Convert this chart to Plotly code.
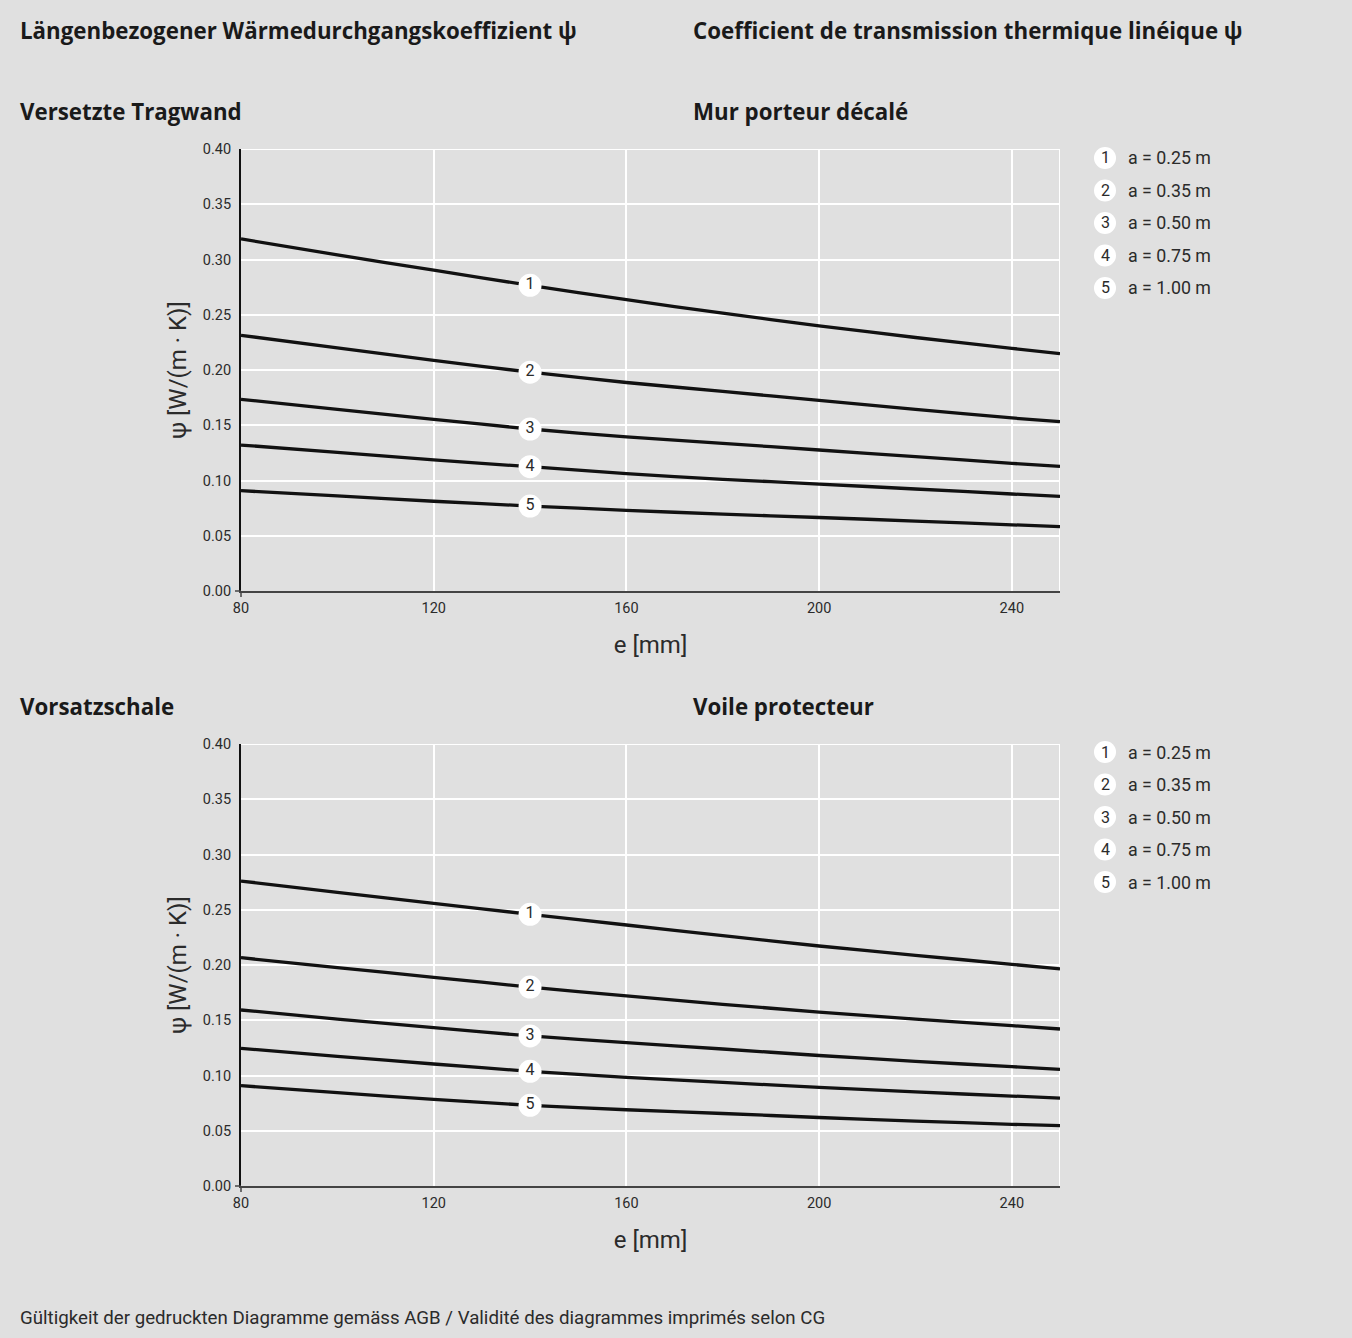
import plotly.graph_objects as go

W, H = 1352, 1338

e_mm = [80, 100, 120, 140, 160, 180, 200, 220, 240, 250]

# Versetzte Tragwand / Mur porteur décalé
top_a025 = [0.3186, 0.3042, 0.2903, 0.2766, 0.2636, 0.2514, 0.2400, 0.2294, 0.2196, 0.2148]
top_a035 = [0.2314, 0.2200, 0.2088, 0.1980, 0.1887, 0.1806, 0.1725, 0.1643, 0.1566, 0.1532]
top_a050 = [0.1735, 0.1644, 0.1554, 0.1466, 0.1395, 0.1336, 0.1276, 0.1216, 0.1155, 0.1128]
top_a075 = [0.1321, 0.1255, 0.1186, 0.1125, 0.1062, 0.1011, 0.0968, 0.0923, 0.0878, 0.0857]
top_a100 = [0.0908, 0.0860, 0.0812, 0.0769, 0.0730, 0.0696, 0.0665, 0.0633, 0.0599, 0.0582]

# Vorsatzschale / Voile protecteur
bot_a025 = [0.2760, 0.2658, 0.2558, 0.2459, 0.2362, 0.2265, 0.2172, 0.2088, 0.2006, 0.1964]
bot_a035 = [0.2066, 0.1976, 0.1889, 0.1800, 0.1720, 0.1644, 0.1574, 0.1511, 0.1451, 0.1421]
bot_a050 = [0.1593, 0.1511, 0.1433, 0.1358, 0.1297, 0.1240, 0.1181, 0.1128, 0.1080, 0.1056]
bot_a075 = [0.1246, 0.1173, 0.1104, 0.1038, 0.0983, 0.0938, 0.0892, 0.0851, 0.0814, 0.0796]
bot_a100 = [0.0908, 0.0845, 0.0784, 0.0730, 0.0690, 0.0656, 0.0620, 0.0588, 0.0558, 0.0546]

curve_ids = ["1", "2", "3", "4", "5"]
legend_labels = ["a = 0.25 m", "a = 0.35 m", "a = 0.50 m", "a = 0.75 m", "a = 1.00 m"]
label_e = 140

x_range = [80, 250]
y_range = [0.0, 0.40]
x_ticks = [80, 120, 160, 200, 240, 250]
x_ticktext = ["80", "120", "160", "200", "240", ""]
y_ticks = [0.0, 0.05, 0.10, 0.15, 0.20, 0.25, 0.30, 0.35, 0.40]
y_ticktext = ["0.00", "0.05", "0.10", "0.15", "0.20", "0.25", "0.30", "0.35", "0.40"]

BG = "#e0e0e0"
FONT = "Roboto"
TFONT = "Open Sans"
TXT = "#2b2b2b"

def px(x):
    return x / W

def py(y):
    return 1 - y / H

fig = go.Figure()

panels = [
    ("x", "y", [top_a025, top_a035, top_a050, top_a075, top_a100]),
    ("x2", "y2", [bot_a025, bot_a035, bot_a050, bot_a075, bot_a100]),
]
li = e_mm.index(label_e)
for xa, ya, series in panels:
    for s in series:
        fig.add_trace(go.Scatter(x=e_mm, y=s, mode="lines", xaxis=xa, yaxis=ya,
                                 line=dict(color="#111111", width=3.3, shape="spline", smoothing=0.5),
                                 showlegend=False, hoverinfo="skip"))
    fig.add_trace(go.Scatter(x=[label_e] * 5, y=[s[li] for s in series], mode="markers+text",
                             xaxis=xa, yaxis=ya, text=curve_ids, textposition="middle center",
                             textfont=dict(family=FONT, size=16, color=TXT),
                             marker=dict(size=23, color="white", line=dict(width=0)),
                             showlegend=False, hoverinfo="skip"))

xdom = [px(241), px(1060)]
axis_common = dict(showgrid=True, gridcolor="white", gridwidth=2, zeroline=False, automargin=False,
                   tickfont=dict(family=FONT, size=14.5, color=TXT), ticks="")
xt = dict(text="e [mm]", font=dict(family=FONT, size=24, color=TXT), standoff=20)
yt = dict(text="ψ [W/(m · K)]", font=dict(family=FONT, size=24, color=TXT), standoff=9)
fig.update_layout(
    width=W, height=H, paper_bgcolor=BG, plot_bgcolor=BG,
    margin=dict(l=0, r=0, t=0, b=0, pad=0, autoexpand=False), showlegend=False,
    xaxis=dict(domain=xdom, range=x_range, tickvals=x_ticks, ticktext=x_ticktext,
               showline=True, linecolor="#444444", linewidth=2, anchor="y", ticklabelstandoff=3,
               title=xt, **axis_common),
    yaxis=dict(domain=[py(591), py(149)], range=y_range, tickvals=y_ticks, ticktext=y_ticktext,
               showline=True, linecolor="#111111", linewidth=2, anchor="x", ticklabelstandoff=5,
               title=yt, **axis_common),
    xaxis2=dict(domain=xdom, range=x_range, tickvals=x_ticks, ticktext=x_ticktext,
                showline=True, linecolor="#444444", linewidth=2, anchor="y2", ticklabelstandoff=3,
                title=xt, **axis_common),
    yaxis2=dict(domain=[py(1186), py(744)], range=y_range, tickvals=y_ticks, ticktext=y_ticktext,
                showline=True, linecolor="#111111", linewidth=2, anchor="x2", ticklabelstandoff=5,
                title=yt, **axis_common),
)

ann = []
def text(x, y, t, size, bold=False, color="#1a1a1a", family=FONT):
    ann.append(dict(x=px(x), y=py(y), xref="paper", yref="paper", xanchor="left", yanchor="middle",
                    text=(f"<b>{t}</b>" if bold else t), showarrow=False, borderpad=0,
                    font=dict(family=family, size=size, color=color)))

text(19, 31, "Längenbezogener Wärmedurchgangskoeffizient ψ", 22.3, True, family=TFONT)
text(692, 31, "Coefficient de transmission thermique linéique ψ", 22.3, True, family=TFONT)
text(19, 111, "Versetzte Tragwand", 22.3, True, family=TFONT)
text(692, 111, "Mur porteur décalé", 22.3, True, family=TFONT)
text(19, 706, "Vorsatzschale", 22.3, True, family=TFONT)
text(692, 706, "Voile protecteur", 22.3, True, family=TFONT)
text(19, 1318, "Gültigkeit der gedruckten Diagramme gemäss AGB / Validité des diagrammes imprimés selon CG", 18.7, False, TXT)

shapes = []
for y0 in (158, 752):
    for i, (cid, lab) in enumerate(zip(curve_ids, legend_labels)):
        yy = y0 + i * 32.5
        shapes.append(dict(type="circle", xref="paper", yref="paper", xsizemode="pixel", ysizemode="pixel",
                           xanchor=px(1105), yanchor=py(yy), x0=-11, x1=11, y0=-11, y1=11,
                           fillcolor="white", line=dict(width=0), layer="above"))
        ann.append(dict(x=px(1105), y=py(yy), xref="paper", yref="paper", xanchor="center", yanchor="middle",
                        text=cid, showarrow=False, font=dict(family=FONT, size=16, color=TXT)))
        text(1127, yy, lab, 17.8, False, TXT)

# white frame lines at top and right edge of each plot area, plus small origin ticks
for xr, yr, ybot in (("x", "y", 591), ("x2", "y2", 1186)):
    shapes.append(dict(type="line", xref=xr, yref=yr, x0=x_range[0], x1=x_range[1], y0=y_range[1], y1=y_range[1],
                       line=dict(color="white", width=2), layer="below"))
    shapes.append(dict(type="line", xref=xr, yref=yr, x0=x_range[1], x1=x_range[1], y0=y_range[0], y1=y_range[1],
                       line=dict(color="white", width=2), layer="below"))
    shapes.append(dict(type="line", xref="paper", yref="paper", x0=px(235), x1=px(241), y0=py(ybot), y1=py(ybot),
                       line=dict(color="#444444", width=1.5)))
    shapes.append(dict(type="line", xref="paper", yref="paper", x0=px(241), x1=px(241), y0=py(ybot), y1=py(ybot + 6),
                       line=dict(color="#444444", width=1.5)))

fig.update_layout(annotations=ann, shapes=shapes)
fig.write_html("out.html", config={"displayModeBar": False},
               post_script="document.body.style.margin='0';document.body.style.overflow='hidden';")
